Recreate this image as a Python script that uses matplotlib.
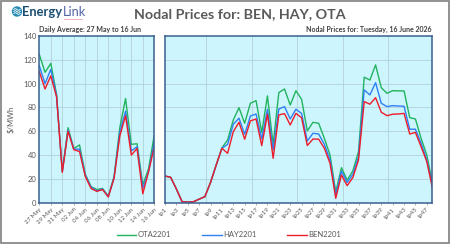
import matplotlib
matplotlib.use("Agg")
import matplotlib.pyplot as plt
import matplotlib.patches as mpatches
from matplotlib.lines import Line2D
import numpy as np

plt.rcParams["font.family"] = ["Lato", "DejaVu Sans"]

# ============================================================
# Datos: promedio diario (27 May - 16 Jun) y precios por trading period
# ============================================================
days = ["27 May", "28 May", "29 May", "30 May", "31 May", "01 Jun", "02 Jun",
        "03 Jun", "04 Jun", "05 Jun", "06 Jun", "07 Jun", "08 Jun", "09 Jun",
        "10 Jun", "11 Jun", "12 Jun", "13 Jun", "14 Jun", "15 Jun", "16 Jun"]
ota_daily = [124.5, 109.5, 117, 91, 26.5, 63, 45.5, 48.5, 24, 13.5, 11, 12,
             5.5, 22, 63, 87.5, 49, 49.5, 15, 28.5, 57]
hay_daily = [115, 100, 112, 90, 26, 61, 45, 45, 23, 13, 10, 11.5,
             5, 21, 59, 77, 43.5, 47, 12, 26, 51]
ben_daily = [110, 95.5, 106.5, 89, 25.5, 60, 44.5, 43, 22, 12, 9.5, 11,
             4.8, 20.5, 56, 73, 40, 45.5, 7.5, 26, 47]

periods = [f"tp{i}" for i in range(1, 49)]
ota_tp = [22.4, 21.3, 11.5, 0.8, 0.5, 0.8, 3, 5, 17, 31.7, 46, 52.7,
          69.5, 79.8, 66.7, 83.5, 85.7, 59, 89.7, 49, 92.5, 95.5, 82, 94,
          86.9, 60.3, 67.5, 66.7, 54, 40, 9, 29.4, 19, 26.6, 42.9, 105.4,
          103, 115.7, 96.6, 91.9, 94.1, 93.9, 93.9, 71.4, 70.3, 54, 40, 16.3]
hay_tp = [22.4, 21.3, 11.5, 0.8, 0.5, 0.8, 3, 5, 17, 31.7, 45.7, 49,
          65.9, 71, 57.5, 72.8, 74.5, 53.5, 78.5, 44.3, 78.7, 80.7, 70.3, 78.5,
          75, 51.8, 58.3, 57.7, 49, 35.9, 6.5, 26.5, 17, 23.7, 38.7, 94.7,
          90.5, 100.8, 83.5, 80.7, 81.5, 81.2, 81, 61.7, 61.7, 49.9, 35.9, 14]
ben_tp = [22.4, 21.3, 11.5, 0.8, 0.5, 0.8, 3, 5, 17, 31.7, 45.7, 41.5,
          59.7, 67.5, 53.3, 68.7, 70.3, 47.9, 74.3, 37.3, 73.7, 74.8, 65.3, 75,
          71.4, 48, 53.5, 53.3, 45.7, 33, 3.7, 23.3, 14.3, 21, 35.9, 84.9,
          82.7, 88.2, 76, 73.1, 74.3, 74.5, 75, 57.7, 59, 47, 34.5, 12]

series = [("OTA2201", "#22B35E", ota_daily, ota_tp),
          ("HAY2201", "#2F80F5", hay_daily, hay_tp),
          ("BEN2201", "#EE1C2A", ben_daily, ben_tp)]

bg = "#CCF5FD"
grid_c = "#B3D1DB"
spine_c = "#3A5F8F"
txt_c = "#595959"

W, H = 450, 244
fig = plt.figure(figsize=(W / 100, H / 100), dpi=100)

bottom = 1 - 202.7 / H
height = 166.7 / H
ax1 = fig.add_axes([39.3 / W, bottom, 115 / W, height])
ax2 = fig.add_axes([165 / W, bottom, 267.5 / W, height])

x_d = np.arange(len(days))
x_t = np.arange(len(periods))
for name, col, d, t in series:
    ax1.plot(x_d, d, color=col, lw=1.0, label=name)
    ax2.plot(x_t, t, color=col, lw=1.0)

for ax in (ax1, ax2):
    ax.set_facecolor(bg)
    ax.set_ylim(0, 140)
    ax.set_yticks(range(0, 141, 20))
    ax.grid(False)
    for yv in range(20, 140, 20):
        ax.axhline(yv, color=grid_c, lw=0.6, zorder=0)
    for s in ax.spines.values():
        s.set_color(spine_c)
        s.set_linewidth(1.1)
    ax.tick_params(axis="both", colors=txt_c, labelsize=4.4, length=1.5, width=0.5)
    ax.tick_params(axis="x", pad=1.5, colors="#8C8C8C", labelcolor=txt_c)

ax1.set_xlim(0, len(days) - 1)
ax1.set_xticks(x_d[::2])
ax1.set_xticklabels(days[::2], rotation=45, ha="right", rotation_mode="anchor")
for xv in x_d[2:-1:2]:
    ax1.axvline(xv, color=grid_c, lw=0.6, zorder=0)
ax1.tick_params(axis="y", pad=2, length=0, labelsize=5.5)
ax1.set_ylabel("$/MWh", color=txt_c, fontsize=5.5, labelpad=6)

ax2.set_xlim(0, len(periods) - 1)
ax2.set_xticks(x_t[::2])
ax2.set_xticklabels(periods[::2], rotation=45, ha="right", rotation_mode="anchor")
ax2.tick_params(axis="y", left=False, labelleft=False)
for xv in np.arange(7.2, 47, 8):
    ax2.axvline(xv, color=grid_c, lw=0.6, zorder=0)

# titulos
fig.text(240 / W, 1 - 14 / H, "Nodal Prices for: BEN, HAY, OTA", ha="center", va="center",
         fontsize=10.3, fontweight="bold", color=txt_c)
fig.text(39 / W, 1 - 29.7 / H, "Daily Average: 27 May to 16 Jun", ha="left", va="center",
         fontsize=5, fontweight="bold", color="#404040")
fig.text(432 / W, 1 - 29.7 / H, "Nodal Prices for: Tuesday, 16 June 2026", ha="right", va="center",
         fontsize=5, fontweight="bold", color="#404040")

# logo
ic = mpatches.Circle((17 / 100, (H - 11.5) / 100), 0.045, transform=fig.dpi_scale_trans,
                     color="#2A8DB5", zorder=5)
fig.patches.append(ic)
for dy in (-2, 0, 2):
    xs = np.linspace(13.8, 20.2, 10)
    ys = H - 11.5 + dy + 0.8 * np.sin((xs - 13.8) * 1.0)
    fig.lines.append(Line2D(xs / 100, ys / 100, transform=fig.dpi_scale_trans,
                            color="white", lw=0.6, zorder=6))
fig.text(22 / W, 1 - 12 / H, "Energy", ha="left", va="center", fontsize=9.3,
         color="#1B4F72", fontweight="bold")
fig.text(62.5 / W, 1 - 12 / H, "Link", ha="left", va="center", fontsize=9.3,
         color="#5164A6")
fig.lines.append(Line2D([64 / W, 82 / W], [1 - 19 / H, 1 - 19 / H], transform=fig.transFigure,
                        color="#E58FA0", lw=0.5))

# leyenda
handles = [Line2D([0], [0], color=c, lw=1.0, label=n) for n, c, _, _ in series]
fig.legend(handles=handles, loc="center", bbox_to_anchor=(229 / W, 1 - 234.7 / H), ncol=3,
           frameon=False, fontsize=5.5, labelcolor=txt_c, handlelength=2.6,
           handletextpad=0.2, columnspacing=4.0)

# borde exterior
fig.patches.append(mpatches.Rectangle((0.002, 0.004), 0.995, 0.99, transform=fig.transFigure,
                                      fill=False, edgecolor="#7F7F7F", lw=1.2))

fig.savefig("out.png", dpi=100)
